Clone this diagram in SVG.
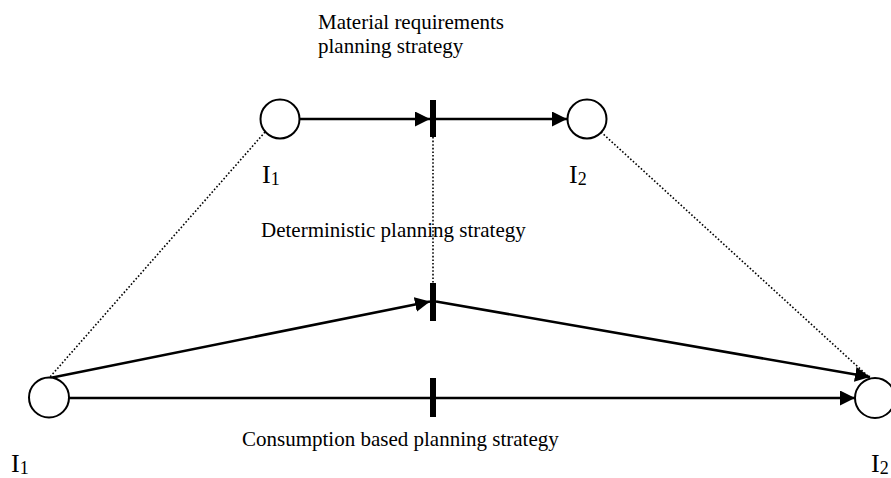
<svg xmlns="http://www.w3.org/2000/svg" width="891" height="478" viewBox="0 0 891 478">
<style>
.place{fill:#fff;stroke:#000;stroke-width:2}
.bar{fill:#000}
.arc{fill:none;stroke:#000;stroke-width:2.6}
.dot{fill:none;stroke:#000;stroke-width:1.6;stroke-dasharray:1.6 2}
.t{font-family:"Liberation Serif","Times New Roman",serif;font-size:21px;fill:#000}
.lab{font-family:"Liberation Serif","Times New Roman",serif;font-size:26px;fill:#000}
.sub{font-size:18px}
</style>
<defs>
<marker id="ah" markerWidth="16" markerHeight="16" refX="15" refY="7.5" orient="auto" markerUnits="userSpaceOnUse">
<path d="M0,0 L15,7.5 L0,15 Z" fill="#000"/>
</marker>
</defs>
<rect width="891" height="478" fill="#fff"/>
<g id="connectors">
<line class="dot" x1="265" y1="132" x2="50" y2="377"/>
<line class="dot" x1="433" y1="137" x2="433" y2="283"/>
<line class="dot" x1="601" y1="132" x2="869" y2="377"/>
<line class="arc" x1="299" y1="119" x2="430" y2="119" marker-end="url(#ah)"/>
<line class="arc" x1="436" y1="119" x2="567" y2="119" marker-end="url(#ah)"/>
<line class="arc" x1="50" y1="378" x2="430" y2="301.5" marker-end="url(#ah)"/>
<line class="arc" x1="436" y1="301.5" x2="870" y2="377" marker-end="url(#ah)"/>
<line class="arc" x1="69" y1="398" x2="855" y2="398" marker-end="url(#ah)"/>
</g>
<g id="p_top_I1"><circle class="place" cx="280" cy="119" r="19.5"/></g>
<g id="t_top"><rect class="bar" x="430" y="100" width="6" height="37"/></g>
<g id="p_top_I2"><circle class="place" cx="587" cy="119" r="19.5"/></g>
<g id="t_mid"><rect class="bar" x="430" y="283" width="6" height="38"/></g>
<g id="p_bot_I1"><circle class="place" cx="49" cy="397.5" r="20"/></g>
<g id="t_bot"><rect class="bar" x="430" y="378" width="6" height="39"/></g>
<g id="p_bot_I2"><circle class="place" cx="875" cy="398" r="20"/></g>
<g id="labels">
<text class="t" x="318" y="29">Material requirements</text>
<text class="t" x="318" y="53">planning strategy</text>
<text class="t" x="261" y="237">Deterministic planning strategy</text>
<text class="t" x="242" y="446">Consumption based planning strategy</text>
<text class="lab" x="262" y="183">I<tspan class="sub" dy="2">1</tspan></text>
<text class="lab" x="569" y="183">I<tspan class="sub" dy="2">2</tspan></text>
<text class="lab" x="11" y="472">I<tspan class="sub" dy="2">1</tspan></text>
<text class="lab" x="871" y="472">I<tspan class="sub" dy="2">2</tspan></text>
</g>
</svg>
